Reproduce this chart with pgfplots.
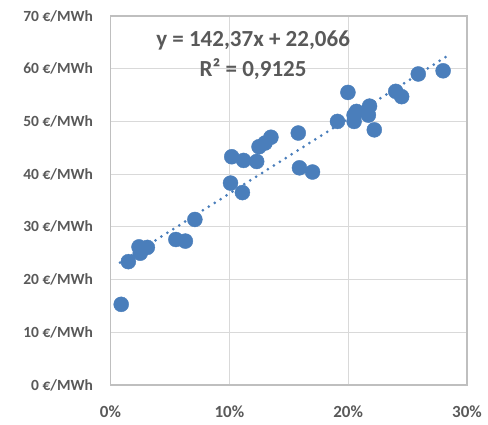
\documentclass[border=0pt]{standalone}
\usepackage{fontspec}
\setmainfont{Carlito}
\usepackage{pgfplots}
\pgfplotsset{compat=1.18}
\definecolor{ptblue}{HTML}{4A7EBB}
\definecolor{txtgray}{HTML}{595959}
\definecolor{gridgray}{HTML}{D9D9D9}
\definecolor{axgray}{HTML}{BFBFBF}
\begin{document}
\begin{tikzpicture}
\begin{axis}[
  name=ax,
  scale only axis,
  width=356.5pt, height=369pt,
  xmin=0, xmax=30, ymin=0, ymax=70,
  xtick={0,10,20,30}, ytick={0,10,...,70},
  grid=major,
  major grid style={gridgray, line width=1.2pt},
  axis line style={axgray, line width=1.2pt},
  tick style={draw=none},
  /pgf/number format/assume math mode=true,
  ticklabel style={font=\bfseries\fontsize{16}{18}\selectfont, text=txtgray},
  xticklabel={\pgfmathprintnumber{\tick}\%},
  yticklabel={\pgfmathprintnumber{\tick}~€/MWh},
  xticklabel style={yshift=-17pt, font=\bfseries\fontsize{17}{18}\selectfont},
  yticklabel style={xshift=-14pt, font=\bfseries\fontsize{15.5}{18}\selectfont},
  clip=false,
]
\addplot[only marks, mark=*, mark size=7.5pt, mark options={fill=ptblue, draw=ptblue}] coordinates {
(27.99,59.6) (25.9,59.0) (19.98,55.5) (24.0,55.7) (24.5,54.7)
(21.8,52.9) (20.7,51.9) (20.5,51.2) (21.7,51.2) (19.1,50.0)
(20.5,50.0) (22.2,48.4) (15.8,47.8) (13.5,47.0) (13.0,45.9)
(12.5,45.2) (10.2,43.3) (11.2,42.6) (12.3,42.4) (15.9,41.2)
(17.0,40.4) (10.1,38.3) (11.1,36.5) (7.1,31.4) (5.5,27.6)
(6.3,27.3) (2.4,26.2) (3.1,26.1) (2.5,25.0) (1.5,23.4) (0.9,15.3)
};
\addplot[ptblue, line width=3pt, dash pattern=on 0pt off 7pt, line cap=round] coordinates {
(0.8,23.20) (28.2,62.21)
};
\node[font=\bfseries\fontsize{23}{30}\selectfont, text=txtgray, align=center] at (axis cs:12.0,62.6) {y = 142,37x + 22,066\\R² = 0,9125};
\end{axis}
\pgfresetboundingbox
\path ([xshift=-110.5pt,yshift=-40pt]ax.south west) rectangle ([xshift=21pt,yshift=16pt]ax.north east);
\end{tikzpicture}
\end{document}
